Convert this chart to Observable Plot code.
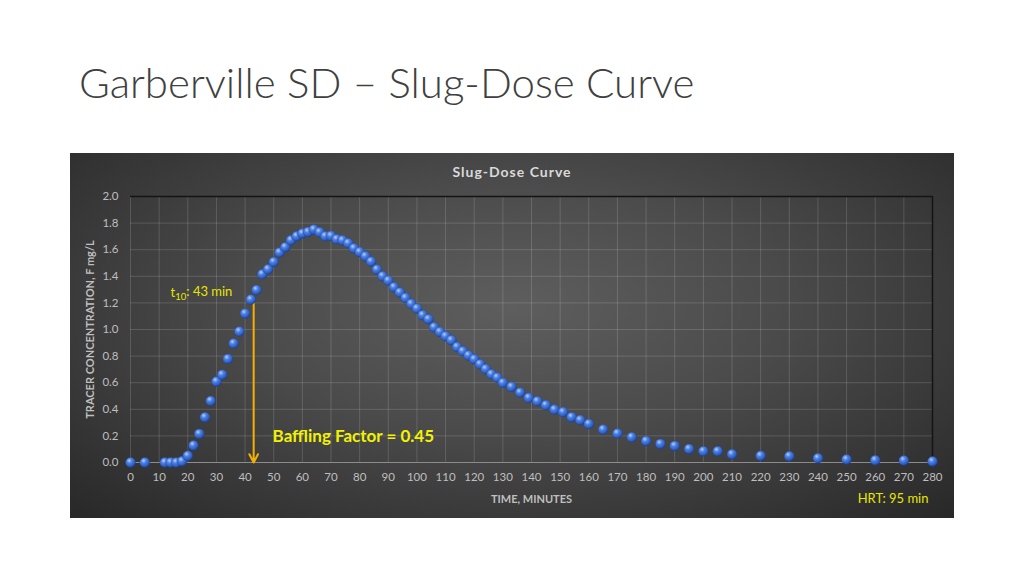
<!DOCTYPE html>
<html>
<head>
<meta charset="utf-8">
<script src="https://cdn.jsdelivr.net/npm/d3@7"></script>
<script src="https://cdn.jsdelivr.net/npm/@observablehq/plot@0.6"></script>
<style>
  html, body { margin: 0; padding: 0; background: #ffffff; width: 1024px; height: 576px; overflow: hidden; }
  #title { position: absolute; left: 79px; top: 57px; font-family: Lato, "Open Sans", sans-serif; font-weight: 300; font-size: 42px; color: #404040; white-space: nowrap; }
  #panel { position: absolute; left: 70px; top: 153px; width: 884px; height: 365px;
    background: radial-gradient(ellipse 75% 85% at 50% 42%, #5e5e5e 0%, #4b4b4b 40%, #353535 75%, #252525 100%); }
  #ctitle { position: absolute; left: 0; top: 10px; width: 884px; text-align: center; font-family: Lato, "Open Sans", sans-serif; font-weight: 700; font-size: 14px; letter-spacing: 1px; color: #d9d9d9; }
  #chart { position: absolute; left: 0; top: 0; }
</style>
</head>
<body>
<div id="title">Garberville SD – Slug-Dose Curve</div>
<div id="panel">
  <div id="chart"></div>
  <div id="ctitle">Slug-Dose Curve</div>
</div>
<script>
// ---- data (time in minutes, tracer concentration in mg/L) ----
const time = [0, 5, 12, 14, 16, 18, 20, 22, 24, 26, 28, 30, 32, 34, 36, 38, 40, 42, 44, 46, 48, 50,
  52, 54, 56, 58, 60, 62, 64, 66, 68, 70, 72, 74, 76, 78, 80, 82, 84, 86, 88, 90, 92, 94, 96, 98, 100,
  102, 104, 106, 108, 110, 112, 114, 116, 118, 120, 122, 124, 126, 128, 130, 133, 136, 139, 142, 145,
  148, 151, 154, 157, 160, 165, 170, 175, 180, 185, 190, 195, 200, 205, 210, 220, 230, 240, 250, 260, 270, 280];
const concentration = [0, 0, 0, 0, 0, 0.01, 0.05, 0.128, 0.215, 0.34, 0.463, 0.609, 0.66, 0.779, 0.895, 0.985, 1.12, 1.225, 1.297, 1.416, 1.453, 1.508,
  1.579, 1.619, 1.671, 1.701, 1.722, 1.734, 1.752, 1.732, 1.701, 1.704, 1.679, 1.671, 1.649, 1.611, 1.583, 1.551, 1.511, 1.451, 1.401, 1.368, 1.318, 1.279, 1.238, 1.193, 1.158,
  1.108, 1.078, 1.017, 0.982, 0.95, 0.92, 0.869, 0.837, 0.805, 0.777, 0.739, 0.703, 0.664, 0.639, 0.599, 0.569, 0.526, 0.486, 0.461, 0.431,
  0.398, 0.379, 0.341, 0.319, 0.29, 0.248, 0.218, 0.19, 0.162, 0.14, 0.125, 0.102, 0.085, 0.085, 0.062, 0.05, 0.047, 0.032, 0.023, 0.017, 0.015, 0.008];

const xTicks = [0, 10, 20, 30, 40, 50, 60, 70, 80, 90, 100, 110, 120, 130, 140, 150, 160, 170, 180, 190, 200, 210, 220, 230, 240, 250, 260, 270, 280];
const yTicks = [0, 0.2, 0.4, 0.6, 0.8, 1.0, 1.2, 1.4, 1.6, 1.8, 2.0];

// annotations
const t10Time = 43;
const t10Top = 1.2;
const t10Label = [{x: 14, y: 1.273, text: "t10: 43 min"}];
const bafflingLabel = [{x: 49.6, y: 0.198, text: "Baffling Factor = 0.45"}];
const hrtLabel = ["HRT: 95 min"];

const data = time.map((t, i) => ({t, c: concentration[i]}));

const chart = Plot.plot({
  width: 884,
  height: 365,
  marginLeft: 60,
  marginRight: 22,
  marginTop: 43,
  marginBottom: 56,
  style: {background: "transparent", color: "#bfbfbf", fontFamily: "Lato, 'Open Sans', sans-serif", fontSize: "11.5px", overflow: "visible"},
  x: {domain: [0, 280], ticks: xTicks, tickSize: 0, tickPadding: 10, tickFormat: d => String(d),
      label: "TIME, MINUTES", labelAnchor: "center", labelOffset: 40, labelArrow: "none"},
  y: {domain: [0, 2], ticks: yTicks, tickSize: 0, tickPadding: 12, tickFormat: d3.format(".1f"),
      label: "TRACER CONCENTRATION, F mg/L", labelAnchor: "center", labelOffset: 44, labelArrow: "none"},
  marks: [
    Plot.gridX(xTicks, {stroke: "#ffffff", strokeOpacity: 0.15}),
    Plot.gridY(yTicks, {stroke: "#ffffff", strokeOpacity: 0.15}),
    Plot.ruleY([0], {stroke: "#8c8c8c", strokeWidth: 1}),
    Plot.ruleY([2], {stroke: "#141414", strokeWidth: 1.5}),
    Plot.ruleX([280], {stroke: "#141414", strokeWidth: 1.5}),
    Plot.arrow([{x1: t10Time, y1: t10Top, x2: t10Time, y2: 0}], {
      x1: "x1", y1: "y1", x2: "x2", y2: "y2", stroke: "#f5b000", strokeWidth: 2, headLength: 7, headAngle: 55
    }),
    Plot.dot(data, {x: "t", y: "c", r: 5, fill: "url(#ball)", stroke: "#1d3f8c", strokeWidth: 0.3}),
    Plot.text(t10Label, {x: "x", y: "y", text: "text", textAnchor: "start", fill: "#e6e600", fontSize: 13}),
    Plot.text(bafflingLabel, {x: "x", y: "y", text: "text", textAnchor: "start", fill: "#f2f200", fontSize: 17, fontWeight: "bold"}),
    Plot.text(hrtLabel, {frameAnchor: "bottom-right", text: d => d, dx: -4, dy: 40, fill: "#e6e600", fontSize: 13})
  ]
});

document.getElementById("chart").appendChild(chart);

const svg = d3.select(chart);
const defs = svg.insert("defs", ":first-child");
const grad = defs.append("radialGradient").attr("id", "ball").attr("cx", "38%").attr("cy", "32%").attr("r", "70%");
grad.append("stop").attr("offset", "0%").attr("stop-color", "#b4d0ff");
grad.append("stop").attr("offset", "35%").attr("stop-color", "#4f82e3");
grad.append("stop").attr("offset", "80%").attr("stop-color", "#2a5bc2");
grad.append("stop").attr("offset", "100%").attr("stop-color", "#1c3f8e");

// axis labels styling
svg.selectAll('[aria-label="x-axis label"] text, [aria-label="y-axis label"] text')
  .attr("font-weight", "bold").attr("font-size", "11px").attr("fill", "#bfbfbf");

// subscript for t10
svg.selectAll("text").each(function() {
  if (this.textContent === "t10: 43 min") {
    const el = d3.select(this);
    el.text(null);
    el.append("tspan").text("t");
    el.append("tspan").attr("font-size", "9.5px").attr("dy", "0.3em").text("10");
    el.append("tspan").attr("dy", "-0.3em").text(": 43 min");
  }
});
</script>
</body>
</html>
